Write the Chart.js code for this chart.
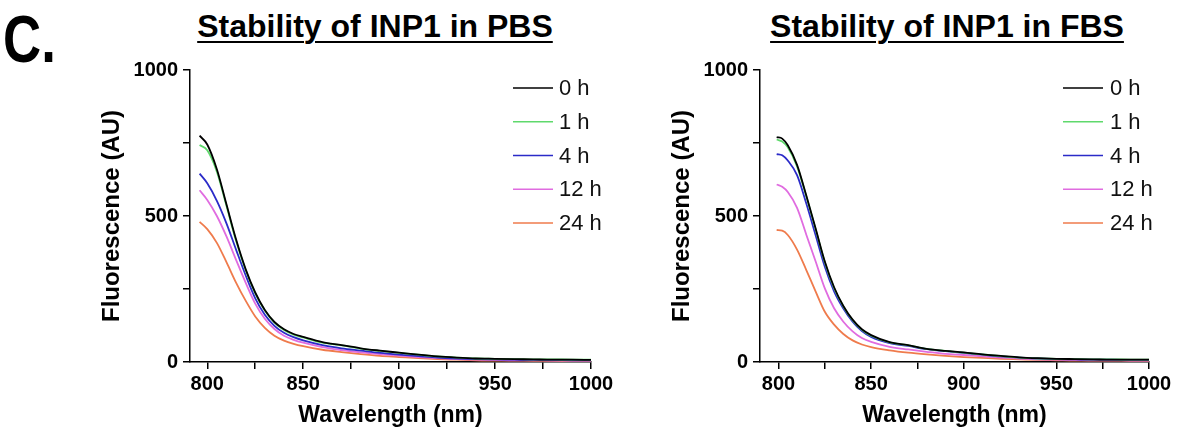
<!DOCTYPE html>
<html><head><meta charset="utf-8">
<script src="https://cdn.jsdelivr.net/npm/chart.js@4.4.1/dist/chart.umd.min.js"></script>
<style>
html,body{margin:0;padding:0;background:#fff;width:1182px;height:430px;overflow:hidden;}
.c{position:absolute;}
.t{position:absolute;font-family:"Liberation Sans",Arial,sans-serif;font-weight:bold;color:#000;white-space:nowrap;}
.ttl{font-size:32px;line-height:30px;text-decoration:underline;text-decoration-thickness:2px;text-underline-offset:4px;text-align:center;width:440px;}
</style></head><body>
<div class="t" style="left:3px;top:6px;font-size:66px;line-height:66px;transform:scaleX(0.8);transform-origin:0 0;">C.</div>
<div class="t ttl" style="left:155px;top:11px;">Stability of INP1 in PBS</div>
<div class="t ttl" style="left:727px;top:11px;">Stability of INP1 in FBS</div>
<div class="c" style="left:0;top:0;width:620px;height:430px"><canvas id="c1"></canvas></div>
<div class="c" style="left:620px;top:0;width:562px;height:430px"><canvas id="c2"></canvas></div>
<script>
const seriesLabels = ['0 h','1 h','4 h','12 h','24 h'];
const seriesColors = ['#000000','#5fd96c','#2b2bc8','#e06ce0','#ef7b4c'];
const xTickValues = [800,825,850,875,900,925,950,975,1000];
const yTickValues = [0,250,500,750,1000];
const xTitle = 'Wavelength (nm)';
const yTitle = 'Fluorescence (AU)';

// PBS panel
const pbsWavelength = [796,800,805,810,815,820,825,830,835,840,845,850,860,870,880,890,900,910,920,930,940,950,960,970,980,990,1000];
const pbs0h  = [775,745,660,540,420,318,238,178,137,112,96,86,68,58,47,39,32,25,19,15,12,11,10,9,8,8,7];
const pbs1h  = [743,725,652,535,415,315,235,176,135,110,94,84,66,57,46,38,31,25,19,15,12,11,10,9,9,8,8];
const pbs4h  = [645,612,552,475,385,297,218,162,124,100,85,74,58,47,39,31,25,20,15,12,10,9,8,7,7,6,6];
const pbs12h = [588,555,500,430,350,272,200,148,113,90,76,66,51,41,33,27,22,17,13,10,8,7,6,6,5,5,5];
const pbs24h = [480,455,408,342,272,210,156,117,90,73,62,54,42,34,27,21,17,13,10,8,6,5,5,4,4,3,3];

// FBS panel
const fbsWavelength = [799,802,805,810,815,820,825,830,835,840,845,850,860,870,880,890,900,910,920,930,940,950,960,970,980,990,1000];
const fbs0h  = [770,765,742,675,570,458,344,256,192,145,112,92,68,58,45,38,33,26,21,16,13,11,10,9,8,8,8];
const fbs1h  = [762,755,735,670,567,455,341,253,190,143,110,90,67,57,45,38,32,26,20,15,12,11,10,9,9,8,8];
const fbs4h  = [712,708,690,640,543,435,326,242,183,138,106,86,65,55,44,37,31,25,19,15,12,10,9,8,8,7,7];
const fbs12h = [608,600,582,528,436,345,252,184,138,105,82,69,52,43,35,28,24,19,15,12,9,8,7,6,6,5,5];
const fbs24h = [452,450,435,385,315,242,172,128,96,74,60,51,40,32,26,21,17,14,11,9,7,6,5,5,5,4,4];

const FONT = '"Liberation Sans", Arial, sans-serif';

const inlineLegend = {
  id: 'inlineLegend',
  afterDraw(chart, args, opts) {
    const {ctx, chartArea} = chart;
    ctx.save();
    ctx.font = '22px ' + FONT;
    ctx.textBaseline = 'middle';
    ctx.textAlign = 'left';
    chart.data.datasets.forEach((ds, i) => {
      const y = chartArea.top + opts.top + i * opts.rowGap;
      ctx.strokeStyle = ds.borderColor;
      ctx.lineWidth = 1.5;
      ctx.beginPath();
      ctx.moveTo(chartArea.right + opts.lineStart, y);
      ctx.lineTo(chartArea.right + opts.lineEnd, y);
      ctx.stroke();
      ctx.fillStyle = '#111';
      ctx.fillText(ds.label, chartArea.right + opts.textX, y + 1);
    });
    ctx.restore();
  }
};

function makeChart(id, wl, series, xMin, padLeft, padRight, legendOpts) {
  const datasets = series.map((arr, k) => ({
    label: seriesLabels[k],
    data: wl.map((w, i) => ({x: w, y: arr[i]})),
    borderColor: seriesColors[k],
    backgroundColor: seriesColors[k],
    borderWidth: 1.8,
    pointRadius: 0,
    fill: false,
    cubicInterpolationMode: 'monotone'
  }));
  const axisCommon = {
    border: {display: true, color: '#000', width: 1.5},
    grid: {display: true, drawOnChartArea: false, drawTicks: true, tickLength: 7, color: '#000', lineWidth: 1.5},
  };
  return new Chart(document.getElementById(id), {
    type: 'line',
    data: {datasets},
    plugins: [inlineLegend],
    options: {
      responsive: true, maintainAspectRatio: false, animation: false, devicePixelRatio: 1,
      layout: {padding: {top: 70, left: padLeft, right: padRight, bottom: 0}},
      plugins: {legend: {display: false}, tooltip: {enabled: false}, inlineLegend: legendOpts},
      scales: {
        x: Object.assign({}, axisCommon, {
          type: 'linear', min: xMin, max: 1000,
          afterBuildTicks: s => { s.ticks = xTickValues.map(v => ({value: v})); },
          afterFit: s => { s.height = 68; },
          ticks: {autoSkip: false, maxRotation: 0, padding: 3, color: '#000',
            font: {family: FONT, size: 20, weight: 'bold'},
            callback: v => (v % 50 === 0 ? String(v) : '')},
          title: {display: true, text: xTitle, color: '#000', padding: {top: 0, bottom: 1},
            font: {family: FONT, size: 23, weight: 'bold'}}
        }),
        y: Object.assign({}, axisCommon, {
          type: 'linear', min: 0, max: 1000,
          afterBuildTicks: s => { s.ticks = yTickValues.map(v => ({value: v})); },
          afterFit: s => { s.width = 92; },
          ticks: {autoSkip: false, padding: 5, color: '#000',
            font: {family: FONT, size: 20, weight: 'bold'},
            callback: v => (v % 500 === 0 ? String(v) : '')},
          title: {display: true, text: yTitle, color: '#000', padding: {top: 0, bottom: 0},
            font: {family: FONT, size: 24, weight: 'bold'}}
        })
      }
    }
  });
}

makeChart('c1', pbsWavelength, [pbs0h, pbs1h, pbs4h, pbs12h, pbs24h], 791, 98, 29,
  {top: 18, rowGap: 33.75, lineStart: -78, lineEnd: -38, textX: -32});
makeChart('c2', fbsWavelength, [fbs0h, fbs1h, fbs4h, fbs12h, fbs24h], 790, 48, 33,
  {top: 18, rowGap: 33.75, lineStart: -86, lineEnd: -46, textX: -39});
</script>
</body></html>
